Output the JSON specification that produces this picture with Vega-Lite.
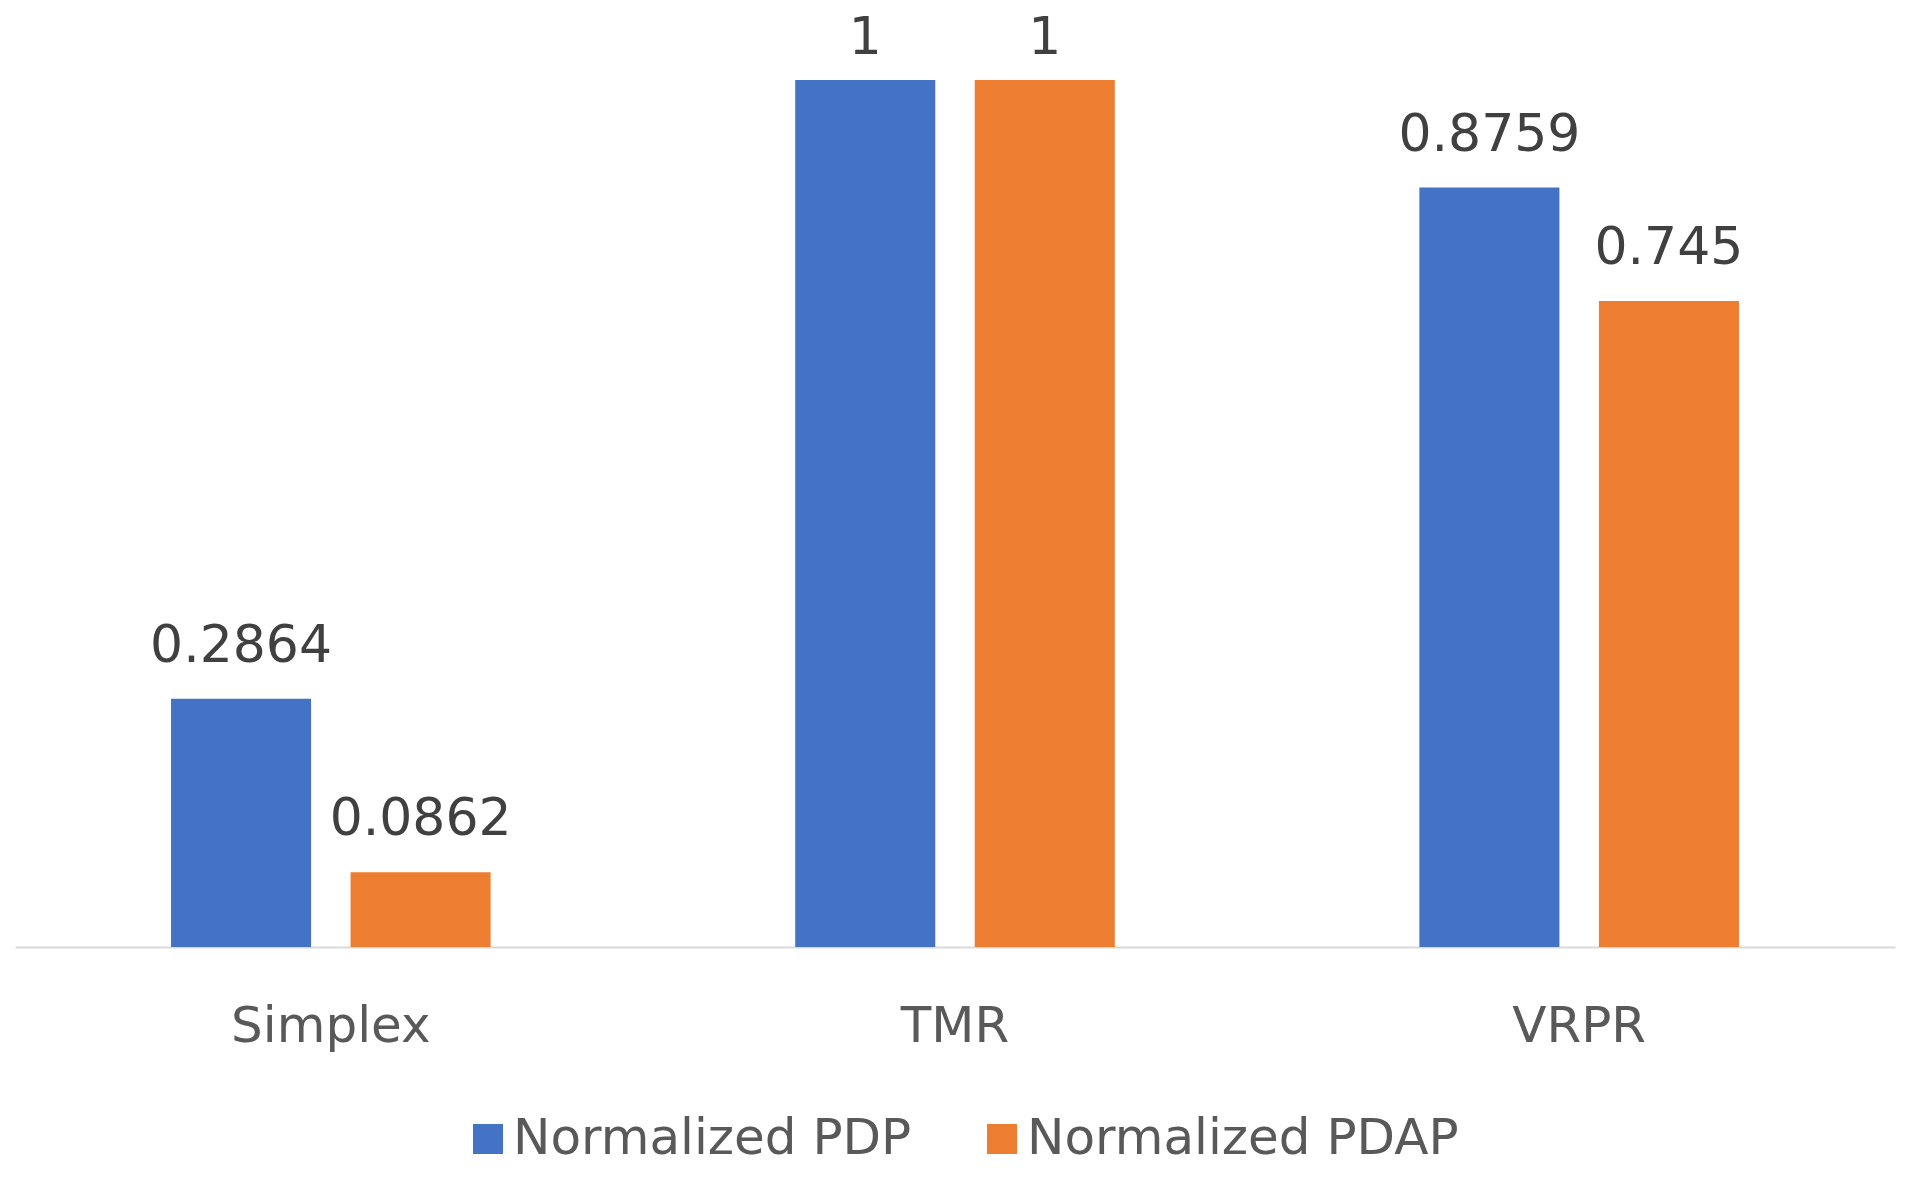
{
  "$schema": "https://vega.github.io/schema/vega-lite/v6.json",
  "width": 1880,
  "height": 867,
  "autosize": {"type": "none"},
  "padding": {"left": 15, "top": 80, "right": 22, "bottom": 235},
  "background": "white",
  "config": {
    "view": {"stroke": null},
    "font": "DejaVu Sans"
  },
  "data": {
    "values": [
      {"category": "Simplex", "series": "Normalized PDP", "value": 0.2864},
      {"category": "Simplex", "series": "Normalized PDAP", "value": 0.0862},
      {"category": "TMR", "series": "Normalized PDP", "value": 1},
      {"category": "TMR", "series": "Normalized PDAP", "value": 1},
      {"category": "VRPR", "series": "Normalized PDP", "value": 0.8759},
      {"category": "VRPR", "series": "Normalized PDAP", "value": 0.745}
    ]
  },
  "encoding": {
    "x": {
      "field": "category",
      "type": "nominal",
      "sort": ["Simplex", "TMR", "VRPR"],
      "scale": {"paddingInner": 0.488, "paddingOuter": 0.25},
      "axis": {
        "title": null,
        "labelAngle": 0,
        "labelFontSize": 50,
        "labelColor": "#595959",
        "labelFont": "DejaVu Sans",
        "labelPadding": 54,
        "labelBaseline": "top",
        "labelLimit": 600,
        "ticks": false,
        "domainColor": "#D9D9D9",
        "domainWidth": 2,
        "grid": false
      }
    },
    "xOffset": {
      "field": "series",
      "type": "nominal",
      "sort": ["Normalized PDP", "Normalized PDAP"],
      "scale": {"paddingInner": 0.22, "paddingOuter": 0}
    },
    "y": {
      "field": "value",
      "type": "quantitative",
      "scale": {"domain": [0, 1], "nice": false, "zero": true},
      "axis": null
    }
  },
  "layer": [
    {
      "mark": {"type": "bar"},
      "encoding": {
        "color": {
          "field": "series",
          "type": "nominal",
          "sort": ["Normalized PDP", "Normalized PDAP"],
          "scale": {
            "domain": ["Normalized PDP", "Normalized PDAP"],
            "range": ["#4472C4", "#ED7D31"]
          },
          "legend": {
            "title": null,
            "orient": "none",
            "direction": "horizontal",
            "legendX": 448,
            "legendY": 1034,
            "padding": 0,
            "symbolType": "square",
            "symbolSize": 900,
            "symbolStrokeWidth": 0,
            "labelFontSize": 50,
            "labelFont": "DejaVu Sans",
            "labelColor": "#595959",
            "labelOffset": 0,
            "columnPadding": 65,
            "labelLimit": 600
          }
        }
      }
    },
    {
      "transform": [{"filter": "datum.value < 1"}],
      "mark": {
        "type": "text",
        "fontSize": 52,
        "font": "DejaVu Sans",
        "color": "#404040",
        "baseline": "alphabetic",
        "dy": -37
      },
      "encoding": {
        "text": {"field": "value", "type": "quantitative"}
      }
    },
    {
      "transform": [{"filter": "datum.value >= 1"}],
      "mark": {
        "type": "text",
        "fontSize": 52,
        "font": "DejaVu Sans",
        "color": "#404040",
        "baseline": "alphabetic",
        "dy": -26
      },
      "encoding": {
        "text": {"field": "value", "type": "quantitative"}
      }
    }
  ]
}
